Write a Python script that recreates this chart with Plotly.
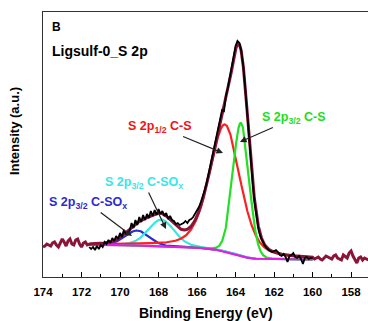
import numpy as np
import plotly.graph_objects as go

# Measured S 2p spectrum, 174.0 -> 157.1 eV in 0.1 eV steps
raw_energy = np.round(np.arange(174.0, 157.05, -0.1), 1)
raw_counts = [
    # 174.0 - 171.7
    30, 31, 33, 32, 31, 34, 35, 32, 30, 34, 38, 35, 31, 36, 38, 33, 32, 37, 38, 33, 30, 34, 35, 32,
    # 171.6 - 160.0 (fitted window)
    30, 28, 30, 27, 31, 28, 32, 30, 35, 33,
    37, 34, 39, 36, 41, 38, 44, 40, 47, 43,
    43, 46, 54, 49, 57, 52, 60, 55, 62, 57,
    63, 59, 66, 61, 67, 62, 68, 63, 66, 61,
    64, 58, 61, 57, 56, 53, 54, 52, 53, 54,
    56, 54, 57, 58, 60, 63, 66, 70, 75, 80,
    87, 94, 103, 112, 121, 131, 140, 150, 160, 167,
    166, 181, 189, 199, 211, 222, 231, 236, 234, 226,
    211, 190, 165, 138, 114, 92, 73, 58, 47, 40,
    35, 32, 29, 27, 26, 25, 26, 27, 25, 22,
    21, 23, 20, 15, 21, 22, 24, 20, 19, 21,
    18, 13, 19, 20, 18, 19, 19,
    # 159.9 - 157.1
    18, 19, 20, 18, 17, 19, 21, 20, 19, 18, 21, 22, 19, 18, 17, 22, 20, 19, 24, 26,
    21, 17, 14, 19, 20, 17, 19, 18, 17,
]

# Fit components: S 2p3/2 C-SOx (blue), S 2p3/2 C-SOx (cyan), S 2p1/2 C-S (red), S 2p3/2 C-S (green)
comp_labels = ["S 2p<sub>3/2</sub> C-SO<sub>x</sub>", "S 2p<sub>3/2</sub> C-SO<sub>x</sub>",
               "S 2p<sub>1/2</sub> C-S", "S 2p<sub>3/2</sub> C-S"]
comp_center = [169.10, 167.85, 164.55, 163.72]
comp_height = [15.0, 27.0, 127.0, 133.0]
comp_sigma = [0.63, 0.68, 0.80, 0.42]
comp_lor = [0.10, 0.20, 0.40, 0.05]
comp_color = ["#2b2bd2", "#38e4e4", "#ff1f1f", "#22e022"]
label_color = ["#2b2bd2", "#3ae6e6", "#f01414", "#22dd22"]

# Shirley background end points and fit window (eV)
bg_high, bg_low = 32.0, 17.5
fit_lo, fit_hi = 160.0, 171.6


def pseudo_voigt(e, c, h, s, m):
    g = np.exp(-0.5 * ((e - c) / s) ** 2)
    lor = 1.0 / (1.0 + ((e - c) / (1.1774 * s)) ** 2)
    return h * ((1 - m) * g + m * lor)


e_fit = np.round(np.arange(fit_lo, fit_hi + 1e-9, 0.01), 4)
comps = [pseudo_voigt(e_fit, c, h, s, m) for c, h, s, m in
         zip(comp_center, comp_height, comp_sigma, comp_lor)]
peaks = np.sum(comps, axis=0)
cum = np.concatenate([[0], np.cumsum((peaks[1:] + peaks[:-1]) / 2)])
shirley = bg_low + (bg_high - bg_low) * cum / cum[-1]
envelope = shirley + peaks

raw_energy = np.asarray(raw_energy)
raw_counts = np.asarray(raw_counts, dtype=float)
in_fit = (raw_energy >= fit_lo - 1e-6) & (raw_energy <= fit_hi + 1e-6)
left = raw_energy > fit_hi + 1e-6
right = raw_energy < fit_lo - 1e-6

# Envelope curve: raw counts outside the window, fitted sum inside it
env_x = np.concatenate([raw_energy[left], e_fit[::-1], raw_energy[right]])
env_y = np.concatenate([raw_counts[left], envelope[::-1], raw_counts[right]])

fig = go.Figure()
for y, col in zip(comps, comp_color):
    fig.add_trace(go.Scatter(x=e_fit, y=shirley + y, mode="lines",
                             line=dict(color=col, width=2.2)))
fig.add_trace(go.Scatter(x=e_fit, y=shirley, mode="lines",
                         line=dict(color="#e020e0", width=2.2)))
fig.add_trace(go.Scatter(x=env_x, y=env_y, mode="lines",
                         line=dict(color="#8b1538", width=3)))
fig.add_trace(go.Scatter(x=raw_energy[in_fit], y=raw_counts[in_fit], mode="lines",
                         line=dict(color="black", width=1.8)))

# Label position (tail) and the point on the curve each arrow points at
label_pos = [(171.66, 74), (168.75, 94), (167.92, 150), (160.94, 159)]
arrow_tip = [(169.38, 41), (167.61, 48), (164.65, 124), (163.77, 135)]

ann = []
for txt, col, (lx, ly), (hx, hy) in zip(comp_labels, label_color, label_pos, arrow_tip):
    ann.append(dict(text=txt, x=hx, y=hy, ax=lx, ay=ly, xref="x", yref="y",
                    axref="x", ayref="y", showarrow=True, arrowhead=2,
                    arrowsize=1.1, arrowwidth=1.2, arrowcolor="#222",
                    font=dict(size=12.5, color=col, weight="bold")))
ann += [
    dict(text="B", x=0.021, y=0.942, xref="paper", yref="paper", xanchor="left",
         yanchor="middle", showarrow=False, font=dict(size=12, weight="bold")),
    dict(text="Ligsulf-0_S 2p", x=0.021, y=0.851, xref="paper", yref="paper",
         xanchor="left", yanchor="middle", showarrow=False,
         font=dict(size=14, weight="bold")),
    dict(text="Binding Energy (eV)", x=0.5, y=-0.136, xref="paper", yref="paper",
         yanchor="middle", showarrow=False, font=dict(size=14, weight="bold")),
    dict(text="Intensity (a.u.)", x=-0.086, y=0.551, xref="paper", yref="paper",
         xanchor="center", yanchor="middle", textangle=-90, showarrow=False,
         font=dict(size=13, weight="bold")),
]

fig.update_layout(width=368, height=321, margin=dict(l=43, r=0, t=12, b=44),
                  plot_bgcolor="white", paper_bgcolor="white", showlegend=False,
                  font=dict(family="Arial, Liberation Sans, sans-serif", color="black"),
                  annotations=ann)
fig.update_xaxes(range=[174, 157.12], tick0=158, dtick=2, ticks="inside", ticklen=5,
                 tickcolor="black", showline=True, linecolor="#333", mirror=True,
                 showgrid=False, zeroline=False, ticklabelstandoff=4,
                 tickfont=dict(size=11.5, weight="bold"),
                 minor=dict(dtick=1, ticks="inside", ticklen=3, tickcolor="black"))
fig.update_yaxes(range=[0, 265], showticklabels=False, showline=True, linecolor="#333",
                 ticks="", showgrid=False, zeroline=False)
fig.write_html("out.html")
